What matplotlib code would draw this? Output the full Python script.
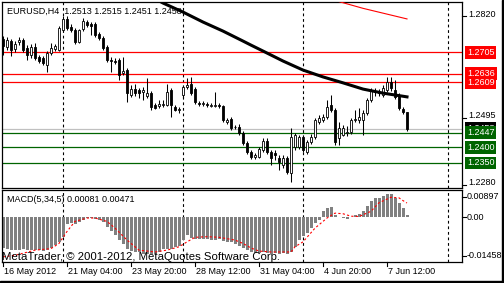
import numpy as np
import matplotlib
matplotlib.use('Agg')
import matplotlib.pyplot as plt
from matplotlib.patches import Rectangle
import matplotlib.transforms as mtransforms

W, H = 504, 283

# EURUSD H4 candles, 16 May 2012 12:00 .. 8 Jun 2012 08:00
opens = [1.2748, 1.2722, 1.2741, 1.2716, 1.2738, 1.2744, 1.2719, 1.2696, 1.2722, 1.2690,
         1.2687, 1.2664, 1.2703, 1.2716, 1.2712, 1.2776, 1.2812, 1.2786, 1.2776, 1.2738,
         1.2780, 1.2802, 1.2796, 1.2796, 1.2764, 1.2751, 1.2722, 1.2680, 1.2677, 1.2680,
         1.2639, 1.2648, 1.2568, 1.2587, 1.2584, 1.2578, 1.2565, 1.2574, 1.2536, 1.2533,
         1.2536, 1.2536, 1.2584, 1.2530, 1.2520, 1.2568, 1.2594, 1.2603, 1.2587, 1.2542,
         1.2539, 1.2539, 1.2533, 1.2533, 1.2536, 1.2533, 1.2481, 1.2491, 1.2465, 1.2465,
         1.2446, 1.2414, 1.2385, 1.2369, 1.2369, 1.2392, 1.2420, 1.2385, 1.2382, 1.2366,
         1.2344, 1.2366, 1.2318, 1.2401, 1.2401, 1.2433, 1.2385, 1.2417, 1.2433, 1.2481,
         1.2488, 1.2497, 1.2536, 1.2520, 1.2430, 1.2440, 1.2446, 1.2449, 1.2488, 1.2488,
         1.2488, 1.2510, 1.2552, 1.2581, 1.2578, 1.2568, 1.2584, 1.2610, 1.2584, 1.2568,
         1.2523, 1.2513]
highs = [1.2757, 1.2754, 1.2748, 1.2741, 1.2754, 1.2751, 1.2728, 1.2732, 1.2735, 1.2696,
         1.2693, 1.2709, 1.2735, 1.2732, 1.2789, 1.2821, 1.2821, 1.2796, 1.2783, 1.2780,
         1.2815, 1.2809, 1.2802, 1.2802, 1.2770, 1.2757, 1.2728, 1.2690, 1.2687, 1.2687,
         1.2690, 1.2655, 1.2600, 1.2603, 1.2590, 1.2594, 1.2623, 1.2581, 1.2542, 1.2552,
         1.2552, 1.2603, 1.2590, 1.2536, 1.2530, 1.2600, 1.2623, 1.2626, 1.2594, 1.2549,
         1.2549, 1.2546, 1.2542, 1.2578, 1.2542, 1.2536, 1.2494, 1.2497, 1.2472, 1.2475,
         1.2453, 1.2420, 1.2392, 1.2382, 1.2401, 1.2430, 1.2430, 1.2392, 1.2392, 1.2376,
         1.2376, 1.2372, 1.2462, 1.2446, 1.2440, 1.2440, 1.2424, 1.2443, 1.2494, 1.2504,
         1.2507, 1.2552, 1.2568, 1.2526, 1.2481, 1.2472, 1.2469, 1.2494, 1.2520, 1.2526,
         1.2520, 1.2558, 1.2590, 1.2590, 1.2587, 1.2600, 1.2626, 1.2626, 1.2616, 1.2574,
         1.2530, 1.2515]
lows = [1.2696, 1.2712, 1.2693, 1.2706, 1.2728, 1.2706, 1.2680, 1.2687, 1.2680, 1.2671,
        1.2664, 1.2642, 1.2696, 1.2709, 1.2709, 1.2773, 1.2776, 1.2770, 1.2732, 1.2735,
        1.2773, 1.2786, 1.2760, 1.2754, 1.2744, 1.2712, 1.2674, 1.2642, 1.2667, 1.2616,
        1.2632, 1.2546, 1.2562, 1.2565, 1.2558, 1.2552, 1.2558, 1.2520, 1.2523, 1.2526,
        1.2530, 1.2533, 1.2497, 1.2517, 1.2510, 1.2558, 1.2587, 1.2568, 1.2539, 1.2533,
        1.2533, 1.2530, 1.2530, 1.2530, 1.2526, 1.2481, 1.2475, 1.2456, 1.2459, 1.2440,
        1.2408, 1.2379, 1.2363, 1.2363, 1.2366, 1.2385, 1.2379, 1.2344, 1.2360, 1.2327,
        1.2334, 1.2315, 1.2289, 1.2392, 1.2395, 1.2385, 1.2379, 1.2411, 1.2427, 1.2475,
        1.2481, 1.2491, 1.2513, 1.2408, 1.2408, 1.2437, 1.2437, 1.2443, 1.2481, 1.2478,
        1.2440, 1.2504, 1.2546, 1.2565, 1.2565, 1.2562, 1.2578, 1.2581, 1.2555, 1.2520,
        1.2507, 1.2451]
closes = [1.2725, 1.2744, 1.2712, 1.2732, 1.2744, 1.2712, 1.2696, 1.2722, 1.2687, 1.2677,
          1.2671, 1.2703, 1.2719, 1.2725, 1.2783, 1.2812, 1.2783, 1.2776, 1.2738, 1.2776,
          1.2805, 1.2793, 1.2789, 1.2760, 1.2751, 1.2719, 1.2680, 1.2677, 1.2674, 1.2632,
          1.2645, 1.2574, 1.2587, 1.2574, 1.2574, 1.2584, 1.2574, 1.2530, 1.2526, 1.2539,
          1.2539, 1.2578, 1.2536, 1.2520, 1.2523, 1.2594, 1.2600, 1.2574, 1.2546, 1.2539,
          1.2542, 1.2536, 1.2536, 1.2536, 1.2533, 1.2488, 1.2488, 1.2462, 1.2465, 1.2446,
          1.2414, 1.2385, 1.2369, 1.2376, 1.2395, 1.2420, 1.2385, 1.2366, 1.2376, 1.2353,
          1.2366, 1.2321, 1.2433, 1.2440, 1.2433, 1.2392, 1.2417, 1.2433, 1.2488, 1.2494,
          1.2497, 1.2530, 1.2520, 1.2417, 1.2462, 1.2462, 1.2449, 1.2488, 1.2491, 1.2497,
          1.2510, 1.2552, 1.2584, 1.2578, 1.2574, 1.2590, 1.2610, 1.2590, 1.2562, 1.2526,
          1.2513, 1.2458]

# moving averages (only the visible part)
ma_idx = [35, 39, 40, 45, 50, 55, 60, 62, 65, 70, 75, 80, 85, 90, 95, 101]
ma_val = [1.2895, 1.2870, 1.2863, 1.2834, 1.2802, 1.2773, 1.2741, 1.2728, 1.2709,
          1.2677, 1.2648, 1.2626, 1.2607, 1.2587, 1.2574, 1.2562]
ma2_idx = [80, 90, 101]
ma2_val = [1.2882, 1.2846, 1.2812]

# MACD(5,34,5)
macd_hist = [-0.0100, -0.0104, -0.0107, -0.0107, -0.0105, -0.0104, -0.0105, -0.0107, -0.0108, -0.0108,
             -0.0109, -0.0106, -0.0100, -0.0091, -0.0080, -0.0063, -0.0022, -0.0019, -0.0022, -0.0015,
             -0.0008, -0.0003, -0.0003, -0.0005, -0.0008, -0.0015, -0.0030, -0.0044, -0.0057, -0.0074,
             -0.0088, -0.0104, -0.0111, -0.0113, -0.0113, -0.0118, -0.0118, -0.0118, -0.0118, -0.0113,
             -0.0104, -0.0104, -0.0102, -0.0096, -0.0094, -0.0074, -0.0057, -0.0066, -0.0069, -0.0069,
             -0.0071, -0.0072, -0.0074, -0.0074, -0.0071, -0.0077, -0.0080, -0.0082, -0.0088, -0.0093,
             -0.0100, -0.0107, -0.0113, -0.0115, -0.0116, -0.0114, -0.0116, -0.0118, -0.0117, -0.0118,
             -0.0117, -0.0118, -0.0113, -0.0096, -0.0075, -0.0060, -0.0050, -0.0035, -0.0019, -0.0008,
             0.0020, 0.0031, 0.0033, 0.0009, 0.0003, -0.0002, -0.0006, 0.0003, 0.0009, 0.0011,
             0.0022, 0.0036, 0.0053, 0.0062, 0.0062, 0.0070, 0.0075, 0.0075, 0.0064, 0.0048,
             0.0031, 0.00081]
sig_idx = [0, 3, 8, 12, 14, 16, 18, 21, 23, 26, 28, 31, 34, 38, 41, 44, 46, 48, 51, 54,
           58, 60, 62, 64, 67, 72, 73, 75, 78, 81, 83, 85, 87, 89, 92, 94, 97, 99, 100, 101]
sig_val = [-0.0129, -0.0124, -0.0107, -0.0102, -0.0085, -0.0046, -0.0013, -0.0002, -0.0002, -0.0013,
           -0.0035, -0.0074, -0.0107, -0.0113, -0.0107, -0.0096, -0.0080, -0.0065, -0.0063, -0.0065,
           -0.0074, -0.0085, -0.0100, -0.0110, -0.0113, -0.0113, -0.0096, -0.0080, -0.0035, -0.0002,
           0.0014, 0.0012, 0.0004, 0.0003, 0.0020, 0.0048, 0.0066, 0.0064, 0.0055, 0.00471]

res_levels = [1.2705, 1.2636, 1.2609]
sup_levels = [1.2447, 1.2400, 1.2350]
bid = 1.2458
plain_levels = [1.2820, 1.2495, 1.2280]
week_sep = [15, 45, 75]
shift_line = 111.25
time_idx = [0, 16, 32, 48, 64, 80, 96]
time_lbl = ['16 May 2012', '21 May 04:00', '23 May 20:00', '28 May 12:00',
            '31 May 04:00', '4 Jun 20:00', '7 Jun 12:00']
macd_lbl = [0.00897, 0.0, -0.01458]
macd_txt = ['0.00897', '0.00', '-0.01458']

plt.rcParams['font.family'] = ['Liberation Sans', 'DejaVu Sans']
fs = 6.5

fig = plt.figure(figsize=(W / 100, H / 100), dpi=100)
fig.patch.set_facecolor('white')
ax = fig.add_axes([2 / W, 1 - 188 / H, 460 / W, 186 / H])
mx = fig.add_axes([2 / W, 1 - 262 / H, 460 / W, 72 / H])

for a in (ax, mx):
    a.set_xlim(-0.25, 114.75)
    a.set_xticks([])
    a.set_yticks([])
    for s in a.spines.values():
        s.set_linewidth(0.9)
        s.set_color('black')
ax.set_ylim(1.22697, 1.28663)
mx.set_ylim(-0.01458, 0.00897)

# level lines
for lv in res_levels:
    ax.axhline(lv, color='red', lw=0.9, zorder=2)
for lv in sup_levels:
    ax.axhline(lv, color='#006400', lw=0.9, zorder=2)
ax.axhline(bid, color='#c0c0c0', lw=0.9, zorder=1)

# separators
for a in (ax, mx):
    for s in week_sep + [shift_line]:
        a.axvline(s, color='black', lw=0.8, ls=(0, (2.5, 2.5)), zorder=1)

# candles
bw = 0.6
for i in range(len(opens)):
    o, h, l, c = opens[i], highs[i], lows[i], closes[i]
    ax.vlines(i, l, h, color='black', lw=0.75, zorder=3)
    if abs(c - o) < 1e-6:
        ax.hlines(o, i - bw / 2, i + bw / 2, color='black', lw=0.8, zorder=4)
    else:
        fc = 'white' if c > o else 'black'
        ax.add_patch(Rectangle((i - bw / 2, min(o, c)), bw, abs(c - o),
                               facecolor=fc, edgecolor='black', lw=0.6, zorder=4))

ax.plot(ma_idx, ma_val, color='black', lw=2.2, zorder=5)
ax.plot(ma2_idx, ma2_val, color='red', lw=0.8, zorder=5)

ax.text(5 / 460, 1 - 9 / 186, 'EURUSD,H4  1.2513 1.2515 1.2451 1.2458', transform=ax.transAxes,
        fontsize=fs, va='center', ha='left', zorder=6)

# right price scale
tr = mtransforms.blended_transform_factory(ax.transAxes, ax.transData)
dx = 1 / 460
for lv in plain_levels:
    ax.plot([1, 1 + 4 * dx], [lv, lv], color='black', lw=0.8, transform=tr, clip_on=False)
    ax.text(1 + 6 * dx, lv + 0.0006, '%.4f' % lv, transform=tr, fontsize=fs, va='center',
            ha='left', clip_on=False)
ax.text(1 + 5 * dx, bid + 0.0003, '%.4f' % bid, transform=tr, fontsize=fs, va='center', ha='left',
        color='white', clip_on=False, bbox=dict(boxstyle='square,pad=0.2', fc='black', ec='none'))
for lv in res_levels:
    ax.text(1 + 5 * dx, lv, '%.4f' % lv, transform=tr, fontsize=fs, va='center', ha='left',
            color='white', clip_on=False, bbox=dict(boxstyle='square,pad=0.2', fc='red', ec='none'))
for lv in sup_levels:
    ax.text(1 + 5 * dx, lv, '%.4f' % lv, transform=tr, fontsize=fs, va='center', ha='left',
            color='white', clip_on=False, bbox=dict(boxstyle='square,pad=0.2', fc='#006400', ec='none'))

# MACD panel
mx.bar(range(len(macd_hist)), macd_hist, width=0.75, color='#808080', zorder=2)
mx.plot(sig_idx, sig_val, color='red', lw=0.8, ls=(0, (2, 2)), zorder=3)
mx.text(5 / 460, 1 - 10 / 72, 'MACD(5,34,5) 0.00081 0.00471', transform=mx.transAxes,
        fontsize=fs, va='center', ha='left')
mx.text(0.0, 5 / 72, 'MetaTrader, \u00a9 2001-2012, MetaQuotes Software Corp.', transform=mx.transAxes,
        fontsize=8.2, va='center', ha='left', zorder=6)
trm = mtransforms.blended_transform_factory(mx.transAxes, mx.transData)
offs = [-0.0022, 0.0, 0.0020]
for v, t, o in zip(macd_lbl, macd_txt, offs):
    mx.plot([1, 1 + 4 * dx], [v + o, v + o], color='black', lw=0.8, transform=trm, clip_on=False)
    mx.text(1 + 5 * dx, v + o, t, transform=trm, fontsize=fs, va='center', ha='left', clip_on=False)

# time axis
trx = mtransforms.blended_transform_factory(mx.transData, mx.transAxes)
for i, t in zip(time_idx, time_lbl):
    mx.plot([i, i], [0, -4 / 72], color='black', lw=0.8, transform=trx, clip_on=False)
    mx.text(i + 0.3, -10 / 72, t, transform=trx, fontsize=fs, va='center', ha='left', clip_on=False)

# window frame (right and bottom)
fig.add_artist(Rectangle((502 / W, 0), 2 / W, 1, transform=fig.transFigure, color='black'))
fig.add_artist(Rectangle((0, 0), 1, 2 / H, transform=fig.transFigure, color='black'))

fig.savefig('out.png', dpi=100, facecolor='white')
